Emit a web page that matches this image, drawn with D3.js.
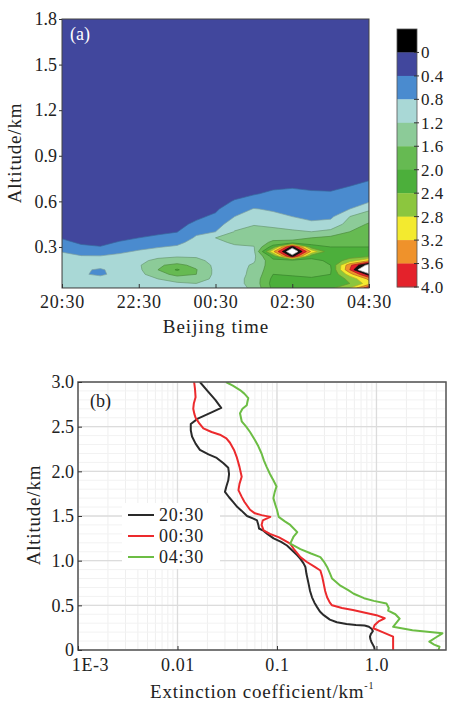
<!DOCTYPE html>
<html>
<head>
<meta charset="utf-8">
<script src="https://cdn.jsdelivr.net/npm/d3@7"></script>
<style>
  body { margin: 0; background: #fff; }
  svg text { font-family: "Liberation Serif", "Times New Roman", serif; fill: #222; }
</style>
</head>
<body>
<svg id="chart" width="450" height="702"></svg>
<script>
// ---------- panel (a): extinction field vs. time and altitude ----------
const gridHours = [0, 0.5, 1, 1.5, 2, 2.5, 3, 3.5, 4, 4.5, 5, 5.5, 6, 6.5, 7, 7.5, 8]; // hours after 20:30
const gridAlt = [0.03, 0.06, 0.09, 0.12, 0.15, 0.18, 0.21, 0.24, 0.27, 0.30, 0.33, 0.36,
                 0.40, 0.45, 0.50, 0.55, 0.60, 0.65, 0.70, 0.75, 0.80, 0.90, 1.80];
// one vertical profile per time column, values at gridAlt (km^-1)
const fieldProfiles = [
  [1.0,1.0,1.0,1.0,1.0,1.0,0.98,0.92,0.78,0.6,0.47,0.38,0.3,0.25,0.22,0.2,0.2,0.2,0.2,0.2,0.2,0.18,0.1],
  [0.95,0.95,0.95,0.84,0.85,0.95,0.9,0.82,0.62,0.45,0.36,0.3,0.26,0.22,0.2,0.2,0.2,0.2,0.2,0.2,0.2,0.18,0.1],
  [0.95,0.95,0.92,0.74,0.76,0.92,0.88,0.81,0.6,0.41,0.34,0.29,0.25,0.22,0.2,0.2,0.2,0.2,0.2,0.2,0.2,0.18,0.1],
  [1.0,1.0,1.0,0.92,0.93,1.0,1.0,0.9,0.72,0.55,0.42,0.34,0.28,0.24,0.22,0.2,0.2,0.2,0.2,0.2,0.2,0.18,0.1],
  [1.0,1.05,1.08,1.1,1.12,1.15,1.1,1.0,0.85,0.68,0.5,0.4,0.33,0.27,0.24,0.22,0.2,0.2,0.2,0.2,0.2,0.18,0.1],
  [1.05,1.1,1.2,1.4,1.6,1.55,1.3,1.1,0.92,0.78,0.6,0.45,0.35,0.28,0.25,0.22,0.2,0.2,0.2,0.2,0.2,0.18,0.1],
  [1.1,1.15,1.35,1.75,2.05,1.7,1.4,1.15,1.0,0.85,0.7,0.55,0.39,0.33,0.28,0.24,0.22,0.2,0.2,0.2,0.2,0.18,0.1],
  [1.05,1.2,1.45,1.6,1.62,1.5,1.3,1.15,1.05,1.0,0.95,0.85,0.72,0.45,0.35,0.28,0.25,0.22,0.2,0.2,0.2,0.18,0.1],
  [1.0,1.05,1.08,1.1,1.1,1.1,1.08,1.05,1.05,1.08,1.12,1.2,0.8,0.6,0.45,0.35,0.3,0.26,0.22,0.2,0.2,0.18,0.1],
  [1.0,1.05,1.05,1.05,1.05,1.05,1.05,1.08,1.1,1.15,1.25,1.3,1.22,1.05,0.8,0.6,0.42,0.33,0.28,0.24,0.22,0.18,0.1],
  [1.3,1.35,1.35,1.3,1.28,1.25,1.15,1.1,1.12,1.18,1.3,1.35,1.3,1.18,0.95,0.82,0.52,0.38,0.3,0.26,0.22,0.18,0.1],
  [2.1,2.15,2.1,2.0,1.9,1.85,1.9,2.2,3.12,2.2,1.7,1.45,1.3,1.12,0.9,0.75,0.6,0.45,0.35,0.28,0.24,0.2,0.1],
  [2.2,2.2,2.1,1.95,1.8,1.75,1.7,4.2,4.95,4.2,1.7,1.5,1.25,1.05,0.8,0.7,0.55,0.45,0.38,0.3,0.25,0.2,0.1],
  [2.2,2.15,2.05,1.9,1.8,1.8,1.85,2.2,3.12,2.2,1.8,1.6,1.2,0.88,0.7,0.6,0.5,0.43,0.36,0.3,0.25,0.2,0.1],
  [2.3,2.2,2.1,2.0,1.95,2.0,2.1,2.1,2.05,2.0,1.9,1.7,1.3,0.95,0.72,0.65,0.55,0.42,0.36,0.3,0.25,0.2,0.1],
  [2.8,2.4,2.5,3.0,3.6,3.5,2.6,2.2,2.1,2.0,1.9,1.8,1.6,1.35,1.2,0.8,0.6,0.5,0.4,0.33,0.28,0.2,0.1],
  [3.9,3.0,3.3,4.2,5.5,4.6,3.2,2.3,2.1,2.0,1.95,1.9,1.8,1.65,1.35,1.15,0.75,0.55,0.45,0.38,0.3,0.22,0.1]
];
const timeTickHours = [0, 2, 4, 6, 8];
const timeLabels = ["20:30", "22:30", "00:30", "02:30", "04:30"];
const altTicksA = [0.3, 0.6, 0.9, 1.2, 1.5, 1.8];

// contour levels and fills
const fieldBase = "#41479d";
const fieldLevels = [0.4, 0.8, 1.2, 1.6, 2.0, 2.4, 2.8, 3.2, 3.6, 4.0, 4.4];
const fieldColors = ["#4a8bcf", "#a9d8d6", "#8ccb98", "#66ba52", "#4caf3b", "#8cc63e",
                     "#f3ea2f", "#ef922b", "#e4222b", "#111111", "#ffffff"];
// colour bar
const colorbarLevels = [-0.4, 0, 0.4, 0.8, 1.2, 1.6, 2.0, 2.4, 2.8, 3.2, 3.6, 4.0];
const colorbarColors = ["#000000", "#41479d", "#4a8bcf", "#a9d8d6", "#8ccb98", "#66ba52",
                        "#4caf3b", "#8cc63e", "#f3ea2f", "#ef922b", "#e4222b"];

// ---------- panel (b): extinction profiles ----------
const seriesNames = ["20:30", "00:30", "04:30"];
const seriesColors = ["#2a2a2a", "#ec2a2d", "#6cbd44"];
const alt2030 = [3.0,2.90,2.80,2.71,2.66,2.59,2.53,2.46,2.39,2.31,2.24,2.19,2.15,2.09,2.04,1.97,1.90,1.83,1.77,1.71,1.66,1.60,1.56,1.50,1.47,1.45,1.40,1.36,1.34,1.30,1.25,1.21,1.17,1.10,1.06,1.02,0.97,0.93,0.85,0.74,0.66,0.59,0.53,0.48,0.43,0.39,0.34,0.31,0.29,0.28,0.275,0.26,0.235,0.21,0.18,0.15,0.12,0.09,0.06,0.03,0.0];
const ext2030 = [0.0168,0.0200,0.0240,0.0275,0.0220,0.0160,0.0136,0.0136,0.0140,0.0152,0.0168,0.0205,0.0248,0.0290,0.0324,0.0330,0.0324,0.0310,0.0300,0.0330,0.0360,0.0400,0.0440,0.0500,0.0580,0.0630,0.0650,0.0660,0.0720,0.0800,0.0925,0.1100,0.1260,0.1470,0.1600,0.1720,0.1850,0.1930,0.1980,0.2080,0.2150,0.2250,0.2380,0.2530,0.2700,0.2950,0.3400,0.4000,0.5000,0.6200,0.7600,0.8400,0.9000,0.9200,0.8800,0.8600,0.8700,0.8900,0.9200,0.9500,0.9600];
const alt0030 = [3.0,2.92,2.83,2.76,2.70,2.64,2.60,2.54,2.48,2.44,2.41,2.37,2.32,2.24,2.16,2.05,1.94,1.86,1.79,1.72,1.66,1.57,1.53,1.51,1.49,1.45,1.40,1.34,1.30,1.26,1.19,1.12,1.04,0.985,0.93,0.89,0.82,0.74,0.66,0.59,0.53,0.50,0.47,0.448,0.42,0.39,0.355,0.32,0.28,0.243,0.20,0.149,0.0];
const ext0030 = [0.0147,0.0150,0.0152,0.0146,0.0144,0.0148,0.0152,0.0165,0.0182,0.0220,0.0267,0.0310,0.0337,0.0370,0.0394,0.0420,0.0442,0.0420,0.0410,0.0440,0.0470,0.0536,0.0600,0.0700,0.0857,0.0720,0.0700,0.0734,0.0850,0.1050,0.1360,0.1500,0.1720,0.2000,0.2400,0.2730,0.2850,0.2950,0.3050,0.3190,0.3400,0.3580,0.4500,0.5800,0.7500,1.0000,1.2100,1.0500,0.9600,0.9300,1.1500,1.4700,1.4700];
const alt0430 = [3.0,2.96,2.91,2.87,2.82,2.78,2.74,2.70,2.65,2.56,2.50,2.44,2.35,2.28,2.20,2.12,2.05,1.97,1.90,1.83,1.77,1.70,1.63,1.57,1.49,1.44,1.40,1.32,1.27,1.19,1.13,1.08,1.04,0.98,0.93,0.86,0.80,0.72,0.67,0.63,0.58,0.55,0.52,0.47,0.44,0.40,0.35,0.26,0.22,0.187,0.14,0.093,0.06,0.037,0.0];
const ext0430 = [0.0307,0.0360,0.0425,0.0470,0.0515,0.0505,0.0497,0.0450,0.0425,0.0442,0.0490,0.0536,0.0600,0.0650,0.0700,0.0740,0.0787,0.0850,0.0920,0.0990,0.0950,0.0920,0.0960,0.1000,0.1040,0.1200,0.1360,0.1600,0.1470,0.1360,0.1720,0.2200,0.2730,0.3000,0.3190,0.3400,0.3580,0.4340,0.5200,0.5910,0.7500,0.9400,1.2600,1.3300,1.3100,1.5500,1.7100,1.4700,2.3000,4.6000,3.9500,3.4000,3.8000,4.3000,4.2000];
const extTicks = [0.001, 0.01, 0.1, 1];
const extTickLabels = ["1E-3", "0.01", "0.1", "1.0"];
const altTicksB = [0, 0.5, 1.0, 1.5, 2.0, 2.5, 3.0];

const SERIF = '"Liberation Serif", "Times New Roman", serif';
const svg = d3.select("#chart");

function styleAxis(g, size) {
  g.attr("font-family", SERIF).attr("font-size", size);
  g.selectAll("text").attr("fill", "#222");
  g.selectAll("line").attr("stroke", "#333");
}

// ================= panel (a) =================
const pa = { l: 62, r: 369, t: 19, b: 288 };
const xa = d3.scaleLinear().domain([0, 8]).range([pa.l, pa.r]);
const ya = d3.scaleLinear().domain([0.03, 1.8]).range([pa.b, pa.t]);

svg.append("clipPath").attr("id", "clipA").append("rect")
  .attr("x", pa.l).attr("y", pa.t).attr("width", pa.r - pa.l).attr("height", pa.b - pa.t);

const gField = svg.append("g").attr("clip-path", "url(#clipA)");
gField.append("rect")
  .attr("x", pa.l).attr("y", pa.t).attr("width", pa.r - pa.l).attr("height", pa.b - pa.t)
  .attr("fill", fieldBase);

const nx = gridHours.length, ny = gridAlt.length;
const gridValues = new Array(nx * ny);
fieldProfiles.forEach((prof, i) => prof.forEach((v, j) => { gridValues[j * nx + i] = v; }));

// contour grid index -> data coordinates (grid nodes sit at index + 0.5)
const colToHour = d3.scaleLinear().domain(d3.range(nx)).range(gridHours).clamp(true);
const rowToAlt = d3.scaleLinear().domain(d3.range(ny)).range(gridAlt).clamp(true);
const gridProjection = d3.geoTransform({
  point(x, y) { this.stream.point(xa(colToHour(x - 0.5)), ya(rowToAlt(y - 0.5))); }
});
const contourPath = d3.geoPath(gridProjection);
const bands = d3.contours().size([nx, ny]).thresholds(fieldLevels)(gridValues);

gField.selectAll("path.band").data(bands).join("path")
  .attr("class", "band")
  .attr("d", contourPath)
  .attr("fill", (d, i) => fieldColors[i])
  .attr("stroke", (d, i) => d3.color(fieldColors[i]).darker(0.8))
  .attr("stroke-width", 0.7)
  .attr("stroke-linejoin", "round");

svg.append("rect")
  .attr("x", pa.l).attr("y", pa.t).attr("width", pa.r - pa.l).attr("height", pa.b - pa.t)
  .attr("fill", "none").attr("stroke", "#444").attr("stroke-width", 1);

const axXA = svg.append("g").attr("transform", `translate(0,${pa.b})`)
  .call(d3.axisBottom(xa).tickValues(timeTickHours).tickFormat((d, i) => timeLabels[i])
    .tickSizeInner(-4).tickSizeOuter(0).tickPadding(7));
axXA.select(".domain").remove();
styleAxis(axXA, 18);
axXA.selectAll("text").attr("letter-spacing", "0.8px");

const axYA = svg.append("g").attr("transform", `translate(${pa.l},0)`)
  .call(d3.axisLeft(ya).tickValues(altTicksA).tickFormat(d3.format(".1f"))
    .tickSizeInner(3).tickSizeOuter(0).tickPadding(2));
axYA.select(".domain").remove();
styleAxis(axYA, 18);

svg.append("text").text("(a)")
  .attr("x", 70).attr("y", 40).attr("font-size", 18).style("fill", "#fff");

svg.append("text").text("Beijing time")
  .attr("x", 216).attr("y", 333).attr("text-anchor", "middle")
  .attr("font-size", 19).attr("letter-spacing", "1px");

svg.append("text").text("Altitude/km")
  .attr("transform", "translate(21,153) rotate(-90)").attr("text-anchor", "middle")
  .attr("font-size", 19).attr("letter-spacing", "0.8px");

// colour bar
const cb = { x: 397, w: 20 };
const ycb = d3.scaleLinear().domain([colorbarLevels[0], colorbarLevels[colorbarLevels.length - 1]]).range([29, 287]);
svg.append("g").selectAll("rect").data(colorbarColors).join("rect")
  .attr("x", cb.x).attr("width", cb.w)
  .attr("y", (d, i) => ycb(colorbarLevels[i]))
  .attr("height", (d, i) => ycb(colorbarLevels[i + 1]) - ycb(colorbarLevels[i]) + 0.3)
  .attr("fill", d => d);
svg.append("rect").attr("x", cb.x).attr("y", 29).attr("width", cb.w).attr("height", 258)
  .attr("fill", "none").attr("stroke", "#555").attr("stroke-width", 0.8);
const cbTicks = colorbarLevels.slice(1);
svg.append("g").selectAll("line").data(cbTicks).join("line")
  .attr("x1", cb.x + cb.w - 3).attr("x2", cb.x + cb.w + 2)
  .attr("y1", d => ycb(d)).attr("y2", d => ycb(d))
  .attr("stroke", "#333").attr("stroke-width", 1);
svg.append("g").selectAll("text").data(cbTicks).join("text")
  .attr("x", cb.x + cb.w + 4).attr("y", d => ycb(d)).attr("dy", "0.35em")
  .attr("font-size", 17).attr("letter-spacing", "0.5px")
  .text(d => d === 0 ? "0" : d3.format(".1f")(d));

// ================= panel (b) =================
const pb = { l: 78, r: 446, t: 382, b: 650 };
const xb = d3.scaleLog().domain([0.001, 5]).range([pb.l, pb.r]);
const yb = d3.scaleLinear().domain([0, 3]).range([pb.b, pb.t]);

const gGrid = svg.append("g");
gGrid.selectAll("line.vminor").data(xb.ticks()).join("line")
  .attr("x1", d => xb(d)).attr("x2", d => xb(d)).attr("y1", pb.t).attr("y2", pb.b)
  .attr("stroke", "#efefef").attr("stroke-width", 1);
gGrid.selectAll("line.hminor").data(yb.ticks(30)).join("line")
  .attr("y1", d => yb(d)).attr("y2", d => yb(d)).attr("x1", pb.l).attr("x2", pb.r)
  .attr("stroke", "#f2f2f2").attr("stroke-width", 1);
gGrid.selectAll("line.vmajor").data(extTicks).join("line")
  .attr("x1", d => xb(d)).attr("x2", d => xb(d)).attr("y1", pb.t).attr("y2", pb.b)
  .attr("stroke", "#dcdcdc").attr("stroke-width", 1.3);
gGrid.selectAll("line.hmajor").data(altTicksB).join("line")
  .attr("y1", d => yb(d)).attr("y2", d => yb(d)).attr("x1", pb.l).attr("x2", pb.r)
  .attr("stroke", "#dcdcdc").attr("stroke-width", 1.3);

svg.append("clipPath").attr("id", "clipB").append("rect")
  .attr("x", pb.l).attr("y", pb.t).attr("width", pb.r - pb.l).attr("height", pb.b - pb.t);

const profiles = [d3.zip(ext2030, alt2030), d3.zip(ext0030, alt0030), d3.zip(ext0430, alt0430)];
const line = d3.line().x(d => xb(d[0])).y(d => yb(d[1]));

// legend backing
svg.append("rect").attr("x", 122).attr("y", 503).attr("width", 98).attr("height", 66).attr("fill", "#fff");

svg.append("g").attr("clip-path", "url(#clipB)")
  .selectAll("path").data(profiles).join("path")
  .attr("d", line)
  .attr("fill", "none")
  .attr("stroke", (d, i) => seriesColors[i])
  .attr("stroke-width", 2)
  .attr("stroke-linejoin", "round");

svg.append("rect")
  .attr("x", pb.l).attr("y", pb.t).attr("width", pb.r - pb.l).attr("height", pb.b - pb.t)
  .attr("fill", "none").attr("stroke", "#555").attr("stroke-width", 1.5);

const axXB = svg.append("g").attr("transform", `translate(0,${pb.b})`)
  .call(d3.axisBottom(xb).tickValues(extTicks).tickFormat((d, i) => extTickLabels[i])
    .tickSizeInner(-4).tickSizeOuter(0).tickPadding(8));
axXB.select(".domain").remove();
styleAxis(axXB, 18);
axXB.selectAll("text").attr("letter-spacing", "0.6px").attr("dx", (d, i) => i === 0 ? 12 : 0);

const axYB = svg.append("g").attr("transform", `translate(${pb.l},0)`)
  .call(d3.axisLeft(yb).tickValues(altTicksB).tickFormat(d => d === 0 ? "0" : d3.format(".1f")(d))
    .tickSizeInner(-4).tickSizeOuter(0).tickPadding(4));
axYB.select(".domain").remove();
styleAxis(axYB, 18);

svg.append("text").text("(b)")
  .attr("x", 90).attr("y", 407).attr("font-size", 18);

// legend
const lg = svg.append("g");
seriesNames.forEach((name, i) => {
  const y = 515 + i * 21;
  lg.append("line").attr("x1", 128).attr("x2", 154).attr("y1", y).attr("y2", y)
    .attr("stroke", seriesColors[i]).attr("stroke-width", 2);
  lg.append("text").attr("x", 159).attr("y", y).attr("dy", "0.35em")
    .attr("font-size", 18).attr("letter-spacing", "0.8px").text(name);
});

svg.append("text").text("Altitude/km")
  .attr("transform", "translate(40,515) rotate(-90)").attr("text-anchor", "middle")
  .attr("font-size", 19).attr("letter-spacing", "0.8px");

const xt = svg.append("text").attr("x", 150).attr("y", 698).attr("font-size", 19).attr("letter-spacing", "0.8px");
xt.append("tspan").text("Extinction coefficient/km");
xt.append("tspan").text("-1").attr("font-size", 10).attr("dy", -9);
</script>
</body>
</html>
